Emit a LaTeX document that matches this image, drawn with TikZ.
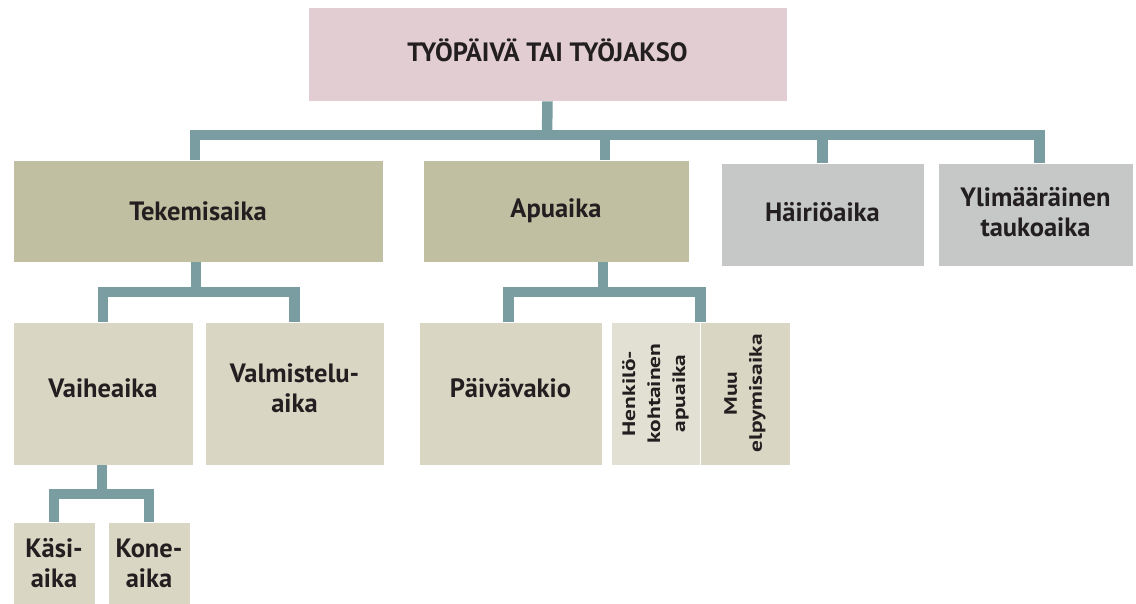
\documentclass[tikz,border=0pt]{standalone}
\usepackage{fontspec}
\setmainfont{PT Sans}
\definecolor{conncol}{HTML}{7A9DA2}
\definecolor{topcol}{HTML}{E1CDD2}
\definecolor{olive}{HTML}{C0BFA1}
\definecolor{greyb}{HTML}{C5C8C7}
\definecolor{light}{HTML}{D9D7C4}
\definecolor{lighter}{HTML}{E2E0D2}
\definecolor{txt}{HTML}{231F20}
\newcommand{\upby}[1]{\\[-#1]\mbox{}}
\newcommand{\wide}[1]{\scalebox{1.3}[1]{#1}}
\begin{document}
\begin{tikzpicture}[x=1pt,y=-1pt,
  box/.style={draw=white, line width=0.8pt, inner sep=0pt, align=center, text=txt,
    font=\fontsize{26.5}{30}\selectfont\bfseries},
  small/.style={font=\fontsize{18}{25}\selectfont\bfseries},
  conn/.style={draw=conncol, line width=10.5pt, line cap=butt, line join=miter}]
\useasboundingbox (0,0) rectangle (1136,603);
% boxes
\node[box, fill=topcol, minimum width=479, minimum height=94] (top) at (547.5,54) {TYÖPÄIVÄ TAI TYÖJAKSO\upby{22pt}};
\node[box, fill=olive, minimum width=370, minimum height=102] (tek) at (198,211) {Tekemisaika};
\node[box, fill=olive, minimum width=266, minimum height=102] (apu) at (556,211) {Apuaika};
\node[box, fill=greyb, minimum width=203, minimum height=103] (hai) at (822.5,214.5) {Häiriöaika\upby{25pt}};
\node[box, fill=greyb, minimum width=195, minimum height=103] (yli) at (1035.5,214.5) {Ylimääräinen\\taukoaika\upby{25pt}};
\node[box, fill=light, minimum width=180, minimum height=143] (vai) at (103,393.5) {Vaiheaika\upby{20pt}};
\node[box, fill=light, minimum width=179, minimum height=143] (val) at (294.5,393.5) {Valmistelu-\\aika\upby{20pt}};
\node[box, fill=light, minimum width=183, minimum height=143] (pai) at (510.5,393.5) {Päivävakio\upby{18pt}};
\node[box, small, fill=lighter, rotate=90, minimum width=143, minimum height=89] (hen) at (655.5,393.5) {\wide{Henkilö-}\\\wide{kohtainen}\\\wide{apuaika}};
\node[box, small, fill=light, rotate=90, minimum width=143, minimum height=90] (muu) at (745,393.5) {\wide{Muu}\\\wide{elpymisaika}};
\node[box, fill=light, minimum width=82, minimum height=82] (kas) at (54,563) {Käsi-\\aika};
\node[box, fill=light, minimum width=82, minimum height=82] (kon) at (149,563) {Kone-\\aika};
% connectors level 1
\coordinate (b1) at (547,135);
\draw[conn] (top.south) -- (b1);
\draw[conn] (b1) -| ([xshift=-3]tek.north);
\draw[conn] (b1) -| ([xshift=49]apu.north);
\draw[conn] (b1) -| (hai.north);
\draw[conn] (b1) -| ([xshift=4]yli.north);
% level 2 tekemisaika
\coordinate (b2) at (196,292);
\draw[conn] ([xshift=-2]tek.south) -- (b2);
\draw[conn] (b2) -| (vai.north);
\draw[conn] (b2) -| (val.north);
% level 2 apuaika
\coordinate (b3) at (603,292);
\draw[conn] ([xshift=47]apu.south) -- (b3);
\draw[conn] (b3) -| ([xshift=-2]pai.north);
\draw[conn] (b3) -| (hen.south east);
% level 3 vaiheaika
\coordinate (b4) at (102,494);
\draw[conn] ([xshift=-1]vai.south) -- (b4);
\draw[conn] (b4) -| (kas.north);
\draw[conn] (b4) -| (kon.north);
\end{tikzpicture}
\end{document}
